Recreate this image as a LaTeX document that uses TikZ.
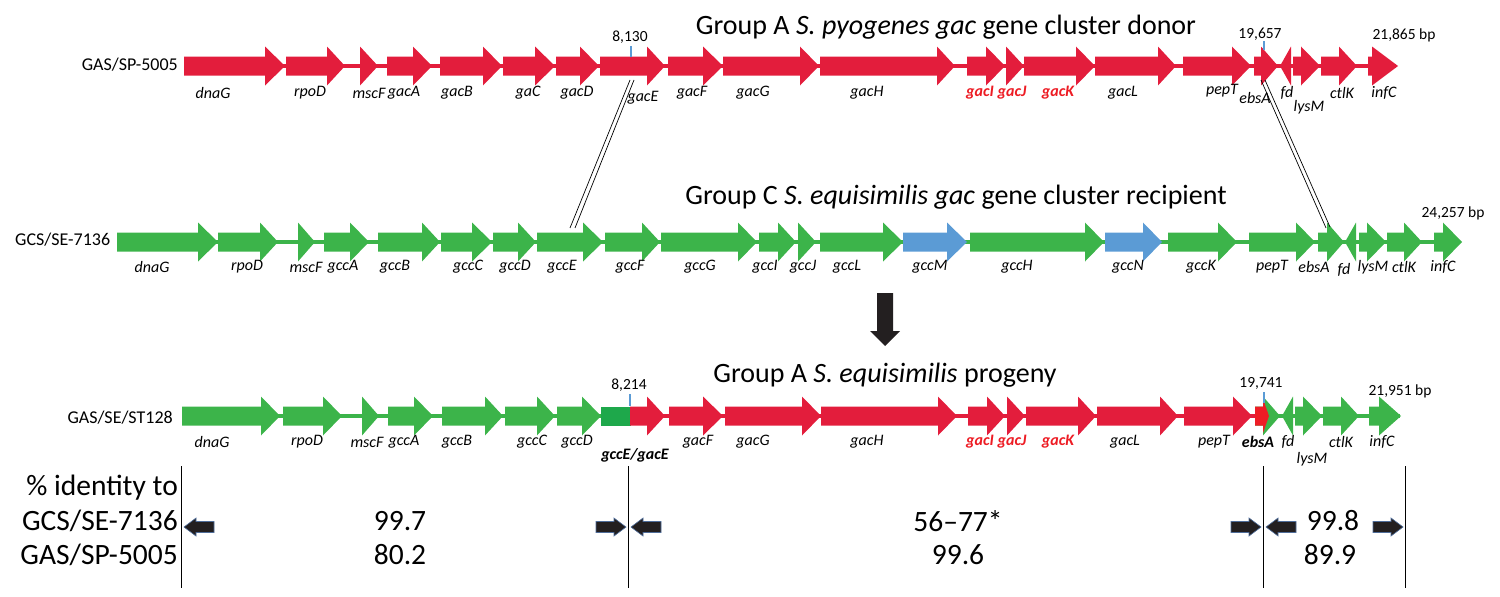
\documentclass[tikz,border=0pt]{standalone}
\usepackage{fontspec}
\setmainfont{Carlito}
\definecolor{gred}{HTML}{E31D3C}
\definecolor{ggreen}{HTML}{3CB44A}
\definecolor{gdkgreen}{HTML}{1EA84B}
\definecolor{gblue}{HTML}{5B9BD5}
\definecolor{tickblue}{HTML}{5B9BD5}
\definecolor{lblred}{HTML}{ED1C24}
\definecolor{brightred}{HTML}{EE1C25}
\definecolor{darkk}{HTML}{231F20}
\definecolor{outl}{HTML}{4F6D9A}
% gene arrow: start x, head start x, tip x, y, colour
\newcommand{\gene}[5]{\fill[#5] (#1,#4-9.5) -- (#2,#4-9.5) -- (#2,#4-19.5) -- (#3,#4) -- (#2,#4+19.5) -- (#2,#4+9.5) -- (#1,#4+9.5) -- cycle;}
% reverse gene: tip x, base x, y, colour
\newcommand{\revgene}[4]{\fill[#4] (#2,#3-19.5) -- (#1,#3) -- (#2,#3+19.5) -- cycle;}
% table arrows: tip x, y
\newcommand{\tarrowL}[2]{\filldraw[fill=darkk, draw=outl, line width=0.6pt] (#1,#2) -- (#1+12,#2-9) -- (#1+12,#2-5.5) -- (#1+30,#2-5.5) -- (#1+30,#2+5.5) -- (#1+12,#2+5.5) -- (#1+12,#2+9) -- cycle;}
\newcommand{\tarrowR}[2]{\filldraw[fill=darkk, draw=outl, line width=0.6pt] (#1,#2) -- (#1-12,#2-9) -- (#1-12,#2-5.5) -- (#1-30,#2-5.5) -- (#1-30,#2+5.5) -- (#1-12,#2+5.5) -- (#1-12,#2+9) -- cycle;}
\begin{document}
\begin{tikzpicture}[x=1pt,y=-1pt,
  genelbl/.style={font=\fontsize{16}{19}\selectfont\itshape, inner sep=0pt},
  redlbl/.style={font=\fontsize{16}{19}\selectfont\itshape\bfseries, text=lblred, inner sep=0pt},
  boldlbl/.style={font=\fontsize{16}{19}\selectfont\itshape\bfseries, inner sep=0pt},
  rowlbl/.style={font=\fontsize{18}{21}\selectfont, inner sep=0pt},
  title/.style={font=\fontsize{28}{33}\selectfont, inner sep=0pt},
  numlbl/.style={font=\fontsize{15.5}{18}\selectfont, inner sep=0pt},
  tabtxt/.style={font=\fontsize{29.5}{34}\selectfont, inner sep=0pt},
  backbone/.style={line width=4pt},
  tick/.style={draw=tickblue, line width=1.2pt},
  cross/.style={draw=black, line width=0.7pt},
  vline/.style={draw=black, line width=1pt}]
\useasboundingbox (0,0) rectangle (1500,597);

% ---------------- top row: GAS/SP-5005 ----------------
\draw[backbone, gred] (184,66) -- (1396,66);
\gene{184}{265}{285}{66}{gred}
\gene{286}{327}{345}{66}{gred}
\gene{360}{360}{378}{66}{gred}
\gene{387}{413}{432}{66}{gred}
\gene{440}{483}{502}{66}{gred}
\gene{503}{535}{555}{66}{gred}
\gene{556}{580}{599}{66}{gred}
\gene{600}{647}{665}{66}{gred}
\gene{668}{703}{723}{66}{gred}
\gene{723}{800}{819}{66}{gred}
\gene{820}{937}{955}{66}{gred}
\gene{967}{986}{1005}{66}{gred}
\gene{1006}{1006}{1024}{66}{gred}
\gene{1024}{1076}{1095}{66}{gred}
\gene{1095}{1158}{1176}{66}{gred}
\gene{1183}{1232}{1251}{66}{gred}
\gene{1254}{1261}{1278}{66}{gred}
\revgene{1280}{1291}{66}{gred}
\gene{1293}{1301}{1320}{66}{gred}
\gene{1321}{1339}{1357}{66}{gred}
\gene{1368}{1372}{1398}{66}{gred}

\node[rowlbl, anchor=east] (rowA) at (178,65) {GAS/SP-5005};
\node[title] (titleA) at (946,27) {Group A \textit{S. pyogenes gac} gene cluster donor};
\node[numlbl] (nA1) at (630,37) {8,130};
\coordinate (tA1a) at (631,46); \coordinate (tA1b) at (631,57);
\draw[tick] (tA1a) -- (tA1b);
\node[numlbl] (nA2) at (1260,34) {19,657};
\coordinate (tA2a) at (1264,41); \coordinate (tA2b) at (1264,50);
\draw[tick] (tA2a) -- (tA2b);
\node[numlbl] (nA3) at (1404,35) {21,865 bp};

\node[genelbl] (a1) at (213,93) {dnaG};
\node[genelbl] (a2) at (310,93) {rpoD};
\node[genelbl] (a3) at (369,93) {mscF};
\node[genelbl] (a4) at (404,93) {gacA};
\node[genelbl] (a5) at (457,93) {gacB};
\node[genelbl] (a6) at (528,93) {gaC};
\node[genelbl] (a7) at (577,93) {gacD};
\node[genelbl] (a8) at (643,98) {gacE};
\node[genelbl] (a9) at (692,93) {gacF};
\node[genelbl] (a10) at (753,93) {gacG};
\node[genelbl] (a11) at (867,93) {gacH};
\node[redlbl] (a12) at (980,93) {gacI};
\node[redlbl] (a13) at (1012,93) {gacJ};
\node[redlbl] (a14) at (1058,93) {gacK};
\node[genelbl] (a15) at (1123,93) {gacL};
\node[genelbl] (a16) at (1222,91) {pepT};
\node[genelbl] (a17) at (1255,98) {ebsA};
\node[genelbl] (a18) at (1287,93) {fd};
\node[genelbl] (a19) at (1309,107) {lysM};
\node[genelbl] (a20) at (1342,93) {ctlK};
\node[genelbl] (a21) at (1384,93) {infC};

% ---------------- middle row: GCS/SE-7136 ----------------
\draw[backbone, ggreen] (117,242) -- (1460,242);
\gene{117}{198}{218}{242}{ggreen}
\gene{218}{260}{278}{242}{ggreen}
\gene{298}{298}{315}{242}{ggreen}
\gene{324}{350}{369}{242}{ggreen}
\gene{378}{422}{440}{242}{ggreen}
\gene{441}{472}{492}{242}{ggreen}
\gene{493}{518}{536}{242}{ggreen}
\gene{537}{583}{603}{242}{ggreen}
\gene{605}{642}{660}{242}{ggreen}
\gene{661}{738}{757}{242}{ggreen}
\gene{759}{778}{796}{242}{ggreen}
\gene{798}{798}{816}{242}{ggreen}
\gene{820}{883}{903}{242}{ggreen}
\gene{903}{947}{967}{242}{gblue}
\gene{970}{1085}{1104}{242}{ggreen}
\gene{1105}{1143}{1162}{242}{gblue}
\gene{1168}{1218}{1237}{242}{ggreen}
\gene{1249}{1296}{1315}{242}{ggreen}
\gene{1318}{1327}{1344}{242}{ggreen}
\revgene{1345}{1356}{242}{ggreen}
\gene{1359}{1367}{1386}{242}{ggreen}
\gene{1387}{1404}{1422}{242}{ggreen}
\gene{1434}{1443}{1462}{242}{ggreen}

\node[rowlbl, anchor=west] (rowC) at (15,240) {GCS/SE-7136};
\node[title] (titleC) at (956,197) {Group C \textit{S. equisimilis gac} gene cluster recipient};
\node[numlbl] (nC1) at (1453,213) {24,257 bp};

\node[genelbl] (c1) at (152,267) {dnaG};
\node[genelbl] (c2) at (247,267) {rpoD};
\node[genelbl] (c3) at (306,267) {mscF};
\node[genelbl] (c4) at (343,267) {gccA};
\node[genelbl] (c5) at (395,267) {gccB};
\node[genelbl] (c6) at (468,267) {gccC};
\node[genelbl] (c7) at (515,267) {gccD};
\node[genelbl] (c8) at (562,267) {gccE};
\node[genelbl] (c9) at (630,267) {gccF};
\node[genelbl] (c10) at (700,267) {gccG};
\node[genelbl] (c11) at (765,267) {gccI};
\node[genelbl] (c12) at (803,267) {gccJ};
\node[genelbl] (c13) at (847,267) {gccL};
\node[genelbl] (c14) at (930,267) {gccM};
\node[genelbl] (c15) at (1017,267) {gccH};
\node[genelbl] (c16) at (1128,267) {gccN};
\node[genelbl] (c17) at (1201,267) {gccK};
\node[genelbl] (c18) at (1272,267) {pepT};
\node[genelbl] (c19) at (1314,267) {ebsA};
\node[genelbl] (c20) at (1344,270) {fd};
\node[genelbl] (c21) at (1373,267) {lysM};
\node[genelbl] (c22) at (1404,267) {ctlK};
\node[genelbl] (c23) at (1443,267) {infC};

% crossing lines
\coordinate (xl1) at (630,80); \coordinate (xl2) at (570,228);
\coordinate (xl3) at (634,80); \coordinate (xl4) at (575,228);
\draw[cross] (xl1) -- (xl2);
\draw[cross] (xl3) -- (xl4);
\coordinate (xr1) at (1261,80); \coordinate (xr2) at (1326,228);
\coordinate (xr3) at (1265,80); \coordinate (xr4) at (1330,227);
\draw[cross] (xr1) -- (xr2);
\draw[cross] (xr3) -- (xr4);

% big down arrow
\fill[darkk] (877,293) -- (893,293) -- (893,331) -- (900,331) -- (885,346) -- (870,331) -- (877,331) -- cycle;

% ---------------- bottom row: GAS/SE/ST128 ----------------
\draw[backbone, ggreen] (182,416) -- (601,416);
\draw[backbone, gred] (630,416) -- (1256,416);
\draw[backbone, ggreen] (1263,416) -- (1400,416);
\gene{182}{261}{280}{416}{ggreen}
\gene{283}{323}{342}{416}{ggreen}
\gene{362}{362}{379}{416}{ggreen}
\gene{388}{414}{433}{416}{ggreen}
\gene{442}{485}{503}{416}{ggreen}
\gene{505}{537}{555}{416}{ggreen}
\gene{557}{582}{601}{416}{ggreen}
\fill[gdkgreen] (601,406.5) rectangle (630.5,425.5);
\gene{630}{647}{665}{416}{gred}
\gene{669}{703}{723}{416}{gred}
\gene{725}{802}{821}{416}{gred}
\gene{821}{938}{957}{416}{gred}
\gene{968}{987}{1005}{416}{gred}
\gene{1007}{1007}{1025}{416}{gred}
\gene{1026}{1078}{1096}{416}{gred}
\gene{1097}{1160}{1178}{416}{gred}
\gene{1184}{1233}{1252}{416}{gred}
\gene{1255}{1263}{1280}{416}{ggreen}
\fill[brightred] (1255,406.5) -- (1263,406.5) -- (1263,399) -- (1269,416) -- (1263,433) -- (1263,425.5) -- (1255,425.5) -- cycle;
\revgene{1282}{1293}{416}{ggreen}
\gene{1295}{1303}{1322}{416}{ggreen}
\gene{1323}{1341}{1359}{416}{ggreen}
\gene{1369}{1379}{1401}{416}{ggreen}

\node[rowlbl, anchor=east] (rowB) at (173,418) {GAS/SE/ST128};
\node[title] (titleB) at (885,375) {Group A \textit{S. equisimilis} progeny};
\node[numlbl] (nB1) at (629,385) {8,214};
\coordinate (tB1a) at (630,394); \coordinate (tB1b) at (630,406);
\draw[tick] (tB1a) -- (tB1b);
\node[numlbl] (nB2) at (1261,383) {19,741};
\coordinate (tB2a) at (1264,392); \coordinate (tB2b) at (1264,403);
\draw[tick] (tB2a) -- (tB2b);
\node[numlbl] (nB3) at (1400,391) {21,951 bp};

\node[genelbl] (b1) at (212,442) {dnaG};
\node[genelbl] (b2) at (307,442) {rpoD};
\node[genelbl] (b3) at (367,442) {mscF};
\node[genelbl] (b4) at (404,442) {gccA};
\node[genelbl] (b5) at (457,442) {gccB};
\node[genelbl] (b6) at (532,442) {gccC};
\node[genelbl] (b7) at (577,442) {gccD};
\node[boldlbl] (b8) at (635,455) {gccE/gacE};
\node[genelbl] (b9) at (698,442) {gacF};
\node[genelbl] (b10) at (753,442) {gacG};
\node[genelbl] (b11) at (867,442) {gacH};
\node[redlbl] (b12) at (980,442) {gacI};
\node[redlbl] (b13) at (1012,442) {gacJ};
\node[redlbl] (b14) at (1058,442) {gacK};
\node[genelbl] (b15) at (1125,442) {gacL};
\node[genelbl] (b16) at (1214,442) {pepT};
\node[boldlbl] (b17) at (1258,442) {ebsA};
\node[genelbl] (b18) at (1288,442) {fd};
\node[genelbl] (b19) at (1312,459) {lysM};
\node[genelbl] (b20) at (1341,442) {ctlK};
\node[genelbl] (b21) at (1382,442) {infC};

% ---------------- identity table ----------------
\coordinate (v1t) at (181,466); \coordinate (v1b) at (181,588);
\coordinate (v2t) at (628,466); \coordinate (v2b) at (628,588);
\coordinate (v3t) at (1263,466); \coordinate (v3b) at (1263,588);
\coordinate (v4t) at (1405,466); \coordinate (v4b) at (1405,588);
\draw[vline] (v1t) -- (v1b);
\draw[vline] (v2t) -- (v2b);
\draw[vline] (v3t) -- (v3b);
\draw[vline] (v4t) -- (v4b);

\node[tabtxt, anchor=east] (t0) at (178,488) {\% identity to};
\node[tabtxt, anchor=east] (t1) at (178,521) {GCS/SE-7136};
\node[tabtxt, anchor=east] (t2) at (178,555) {GAS/SP-5005};
\node[tabtxt] (t3) at (400,521) {99.7};
\node[tabtxt] (t4) at (400,555) {80.2};
\node[tabtxt] (t5) at (958,521) {56–77*};
\node[tabtxt] (t6) at (958,555) {99.6};
\node[tabtxt] (t7) at (1333,521) {99.8};
\node[tabtxt] (t8) at (1330,555) {89.9};

\tarrowL{184}{527}
\tarrowR{626}{527}
\tarrowL{631}{527}
\tarrowR{1261}{527}
\tarrowL{1266}{527}
\tarrowR{1403}{527}
\end{tikzpicture}
\end{document}
